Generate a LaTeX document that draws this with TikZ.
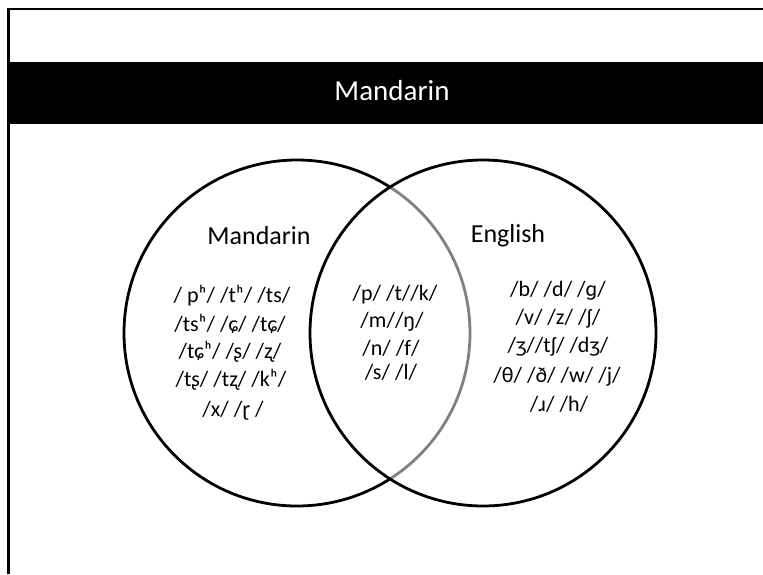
\documentclass[tikz,border=0pt]{standalone}
\usepackage{fontspec}
\setmainfont{Carlito}
\begin{document}
\begin{tikzpicture}[x=1pt,y=-1pt,
  frame/.style={line width=2.6pt, black},
  setcircle/.style={line width=2.8pt, black},
  setlabel/.style={font=\fontsize{26}{30}\selectfont, inner sep=0pt, anchor=center},
  phon/.style={font=\fontsize{22}{26}\selectfont, inner sep=0pt, anchor=center},
  titletext/.style={font=\fontsize{29}{34}\selectfont, text=white, inner sep=0pt, anchor=center}]
  \useasboundingbox (0,0) rectangle (763,574);
  \fill[white] (0,0) rectangle (763,574);
  % slide frame
  \draw[frame] (8.5,574) -- (8.5,9) -- (763,9);
  % title bar
  \fill[black] (7,62) rectangle (763,124);
  \node[titletext] (title) at (392,91) {Mandarin};
  % the two sets
  \draw[setcircle] (297,333) circle[radius=173];
  \draw[setcircle, fill=white, fill opacity=0.5] (483,333) circle[radius=173];
  \node[setlabel] (lm) at (259,236) {Mandarin};
  \node[setlabel] (le) at (508,236) {English};
  % Mandarin only
  \node[phon] (m1) at (232,296) {/ pʰ/ /tʰ/ /ts/};
  \node[phon] (m2) at (230,324) {/tsʰ/ /ɕ/ /tɕ/};
  \node[phon] (m3) at (230,352) {/tɕʰ/ /ʂ/ /ʐ/};
  \node[phon] (m4) at (231,380) {/tʂ/ /tʐ/ /kʰ/};
  \node[phon] (m5) at (233,411) {/x/ /ɽ /};
  % shared
  \node[phon] (c1) at (395,295) {/p/ /t//k/};
  \node[phon] (c2) at (392,322) {/m//ŋ/};
  \node[phon] (c3) at (391,348) {/n/ /f/};
  \node[phon] (c4) at (391,372) {/s/ /l/};
  % English only
  \node[phon] (e1) at (558,291) {/b/ /d/ /ɡ/};
  \node[phon] (e2) at (558,319) {/v/ /z/ /ʃ/};
  \node[phon] (e3) at (558,347) {/ʒ//tʃ/ /dʒ/};
  \node[phon] (e4) at (557,377) {/θ/ /ð/ /w/ /j/};
  \node[phon] (e5) at (559,404) {/ɹ/ /h/};
\end{tikzpicture}
\end{document}
